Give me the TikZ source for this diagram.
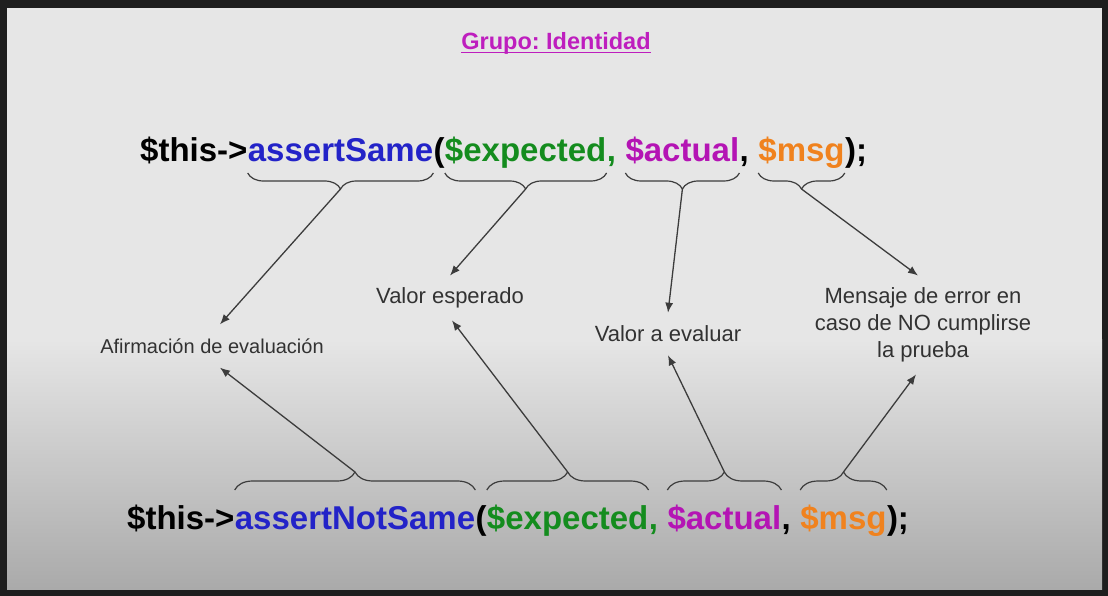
\documentclass[tikz,border=0pt]{standalone}
\usepackage{fontspec}
\setmainfont{Liberation Sans}
\usetikzlibrary{decorations.pathreplacing,calc,arrows.meta}

\definecolor{framegray}{RGB}{30,30,30}
\definecolor{bgtop}{RGB}{230,230,230}
\definecolor{bgbot}{RGB}{170,170,170}
\definecolor{fnblue}{RGB}{35,35,200}
\definecolor{argreen}{RGB}{20,140,30}
\definecolor{argmag}{RGB}{180,20,180}
\definecolor{argorange}{RGB}{240,130,30}
\definecolor{titlemag}{RGB}{190,30,190}
\definecolor{notegray}{RGB}{50,50,50}
\definecolor{linegray}{RGB}{60,60,60}

\newcommand{\gap}{\kern.278em}
\frenchspacing

\tikzstyle{code} = [inner sep=0pt, anchor=base west, font=\fontsize{33}{36}\selectfont\bfseries]
\tikzstyle{note} = [text=notegray, font=\fontsize{22}{27}\selectfont, align=center, inner xsep=4pt, inner ysep=12pt]
\tikzstyle{downbrace} = [decorate, decoration={brace, amplitude=16pt}, draw=linegray, line width=1.2pt, line join=round]
\tikzstyle{upbrace} = [decorate, decoration={brace, amplitude=18pt}, draw=linegray, line width=1.2pt, line join=round]
\tikzstyle{pointer} = [-{Latex[length=10pt,width=8pt]}, color=linegray, line width=1.3pt]

\begin{document}
\begin{tikzpicture}[x=1pt, y=-1pt]
	\useasboundingbox (0,0) rectangle (1108,596);
	% background
	\fill[framegray] (0,0) rectangle (1108,596);
	\fill[bgtop] (7,8) rectangle (1102,340);
	\shade[top color=bgtop, bottom color=bgbot] (7,339) rectangle (1102,589);

	% title
	\node[inner sep=0pt, anchor=base, text=titlemag, font=\fontsize{23.5}{26}\selectfont\bfseries] (title) at (556,50) {Grupo: Identidad};
	\draw[titlemag, line width=1.6pt] ($(title.base west)+(0,2.5)$) -- ($(title.base east)+(0,2.5)$);

	% first line
	\node[code] (this1) at (140,162) {\$this->};
	\node[code, text=fnblue] (same) at (this1.base east) {assertSame};
	\node[code] (par1) at (same.base east) {(};
	\node[code, text=argreen] (exp1) at (par1.base east) {\$expected};
	\node[code, text=argreen] (com1) at (exp1.base east) {,\gap};
	\node[code, text=argmag] (act1) at (com1.base east) {\$actual};
	\node[code] (com2) at (act1.base east) {,\gap};
	\node[code, text=argorange] (msg1) at (com2.base east) {\$msg};
	\node[code] (end1) at (msg1.base east) {);};

	% second line
	\node[code] (this2) at (127,529) {\$this->};
	\node[code, text=fnblue] (notsame) at (this2.base east) {assertNotSame};
	\node[code] (par2) at (notsame.base east) {(};
	\node[code, text=argreen] (exp2) at (par2.base east) {\$expected};
	\node[code, text=argreen] (com3) at (exp2.base east) {,\gap};
	\node[code, text=argmag] (act2) at (com3.base east) {\$actual};
	\node[code] (com4) at (act2.base east) {,\gap};
	\node[code, text=argorange] (msg2) at (com4.base east) {\$msg};
	\node[code] (end2) at (msg2.base east) {);};

	% notes
	\node[note, font=\fontsize{20}{24}\selectfont, inner ysep=14pt] (afirm) at (212,346) {Afirmación de evaluación};
	\node[note] (esperado) at (450,298) {Valor esperado};
	\node[note, inner ysep=13pt] (evaluar) at (668,334) {Valor a evaluar};
	\node[note] (mensaje) at (923,325) {Mensaje de error en\\caso de NO cumplirse\\la prueba};

	% braces over and under the words
	\foreach \w in {same, exp1, act1, msg1} {
		\draw[downbrace] ($(\w.base east)+(0,11)$) -- ($(\w.base west)+(0,11)$);
		\coordinate (tip-\w) at ($(\w.base)+(0,27)$);
	}
	\foreach \w in {notsame, exp2, act2, msg2} {
		\draw[upbrace] ($(\w.base west)+(0,-39)$) -- ($(\w.base east)+(0,-39)$);
		\coordinate (tip-\w) at ($(\w.base)+(0,-57)$);
	}

	\path[pointer]
	(tip-same) edge ([xshift=8pt]afirm.north)
	(tip-exp1) edge (esperado.north)
	(tip-act1) edge (evaluar.north)
	(tip-msg1) edge ([xshift=-5pt]mensaje.north)
	(tip-notsame) edge ([xshift=8pt]afirm.south)
	(tip-exp2) edge ([xshift=2pt]esperado.south)
	(tip-act2) edge (evaluar.south)
	(tip-msg2) edge ([xshift=-7pt]mensaje.south);
\end{tikzpicture}
\end{document}
